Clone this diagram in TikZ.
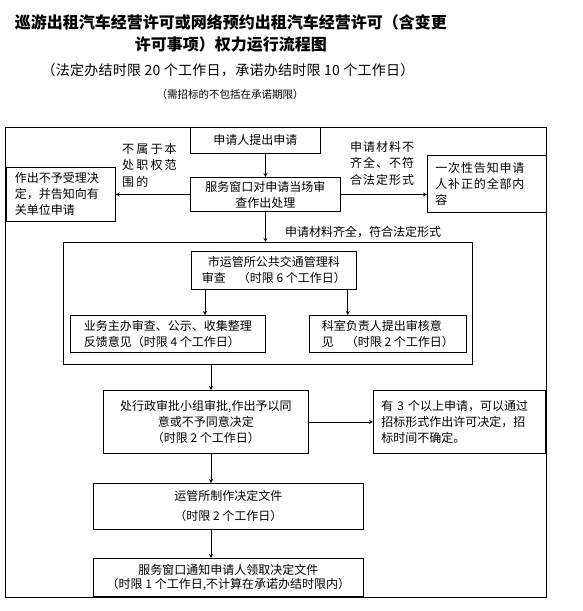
\documentclass[tikz,border=0pt]{standalone}
\usepackage{fontspec}
\setmainfont{Noto Sans CJK SC}
\usetikzlibrary{positioning, calc}
\newcommand{\boxfont}{\fontsize{12}{16}\selectfont}
\newcommand{\tagfont}{\fontsize{12}{16.5}\selectfont}
\tikzset{box/.style={draw, line width=0.8pt, inner sep=2pt, align=center, font=\boxfont}}

\begin{document}
\begin{tikzpicture}[
		x=1pt, y=-1pt,
		frame/.style={draw, line width=0.8pt, inner sep=0pt},
		tag/.style={inner sep=0pt, align=left, font=\tagfont},
		arrow/.style={->, >=stealth, line width=0.8pt}
		]
		\useasboundingbox (0,0) rectangle (583,611);
		
		% Title and time limits
		\node[align=center, font=\fontsize{16}{22}\selectfont\bfseries] (title) at (231,33)
			{巡游出租汽车经营许可或网络预约出租汽车经营许可（含变更\\许可事项）权力运行流程图};
		\node[font=\fontsize{14}{14}\selectfont\addfontfeatures{LetterSpace=2}] (limits) at (228,70)
			{（法定办结时限 20 个工作日，承诺办结时限 10 个工作日）};
		\node[font=\fontsize{10.5}{10.5}\selectfont] (remark) at (230,95)
			{（需招标的不包括在承诺期限）};
		
		% Frames
		\node[frame, anchor=north west, minimum width=541pt, minimum height=470pt] (outer) at (5,127) {};
		\node[frame, anchor=north west, minimum width=409pt, minimum height=122pt] (group) at (63,242) {};
		
		% Acceptance
		\node[box, anchor=north west, minimum width=130pt, minimum height=26pt] (apply) at (190,127) {申请人提出申请};
		\node[box, anchor=north west, minimum width=150pt, minimum height=34pt] (window) at (190,177)
			{服务窗口对申请当场审\\查作出处理};
		\node[box, align=left, anchor=north west, text width=92pt, inner xsep=8.5pt, minimum height=54pt] (reject) at (6,167)
			{作出不予受理决\\定，并告知向有\\关单位申请};
		\node[box, align=left, anchor=north west, text width=103pt, inner xsep=8pt, minimum height=57pt,
			font=\boxfont\addfontfeatures{LetterSpace=7}] (notify) at (427,155)
			{一次性告知申请\\人补正的全部内\\容};
		\node[tag, anchor=north west, font=\tagfont\addfontfeatures{LetterSpace=18}] (outside) at (122,143) {不属于本\\处职权范\\围的};
		\node[tag, anchor=north west, font=\tagfont\addfontfeatures{LetterSpace=8}] (incomplete) at (350,141) {申请材料不\\齐全、不符\\合法定形式};
		\node[tag, anchor=west] (complete) at (285,232) {申请材料齐全，符合法定形式};
		
		% Review
		\node[box, anchor=north west, minimum width=165pt, minimum height=38pt] (review) at (191,251)
			{市运管所公共交通管理科\\审查　（时限 6 个工作日）};
		\node[box, align=left, anchor=north west, minimum width=195pt, minimum height=37pt] (host) at (70,315)
			{业务主办审查、公示、收集整理\\反馈意见（时限 4 个工作日）};
		\node[box, align=left, anchor=north west, minimum width=157pt, minimum height=37pt] (chief) at (309,315)
			{科室负责人提出审核意\\见　（时限 2 个工作日）};
		
		% Decision
		\node[box, anchor=north west, minimum width=205pt, minimum height=63pt] (approve) at (103,390)
			{处行政审批小组审批,作出予以同\\意或不予同意决定\\（时限 2 个工作日）};
		\node[box, align=left, anchor=north west, text width=156pt, inner xsep=8pt, minimum height=63pt] (bid) at (373,390)
			{有 3 个以上申请，可以通过\\招标形式作出许可决定，招\\标时间不确定。};
		\node[box, anchor=north west, minimum width=270pt, minimum height=46pt, font=\fontsize{12}{20}\selectfont] (document) at (93,483)
			{运管所制作决定文件\\（时限 2 个工作日）};
		\node[box, anchor=north west, minimum width=270pt, minimum height=38pt, font=\fontsize{12}{14.5}\selectfont] (notice) at (93,558)
			{服务窗口通知申请人领取决定文件\\（时限 1 个工作日,不计算在承诺办结时限内）};
		\coordinate (spine) at (211,0);
		
		% Connectors
		\draw[arrow] (window.north |- apply.south) -- (window.north);
		\draw[arrow] (window.west) -- (reject.east);
		\draw[arrow] (window.east) -- (window.east -| notify.west);
		\draw[arrow] (window.south) -- (window.south |- group.north);
		\draw[arrow] ([xshift=14pt]review.south west) -- ([xshift=14pt]review.south west |- host.north);
		\draw[arrow] ([xshift=-9pt]review.south east) -- ([xshift=-9pt]review.south east |- chief.north);
		\draw[arrow] (group.south -| spine) -- (approve.north -| spine);
		\draw[arrow] (approve.east) -- (bid.west);
		\draw[arrow] (approve.south -| spine) -- (document.north -| spine);
		\draw[arrow] (document.south -| spine) -- (notice.north -| spine);
	\end{tikzpicture}
\end{document}
